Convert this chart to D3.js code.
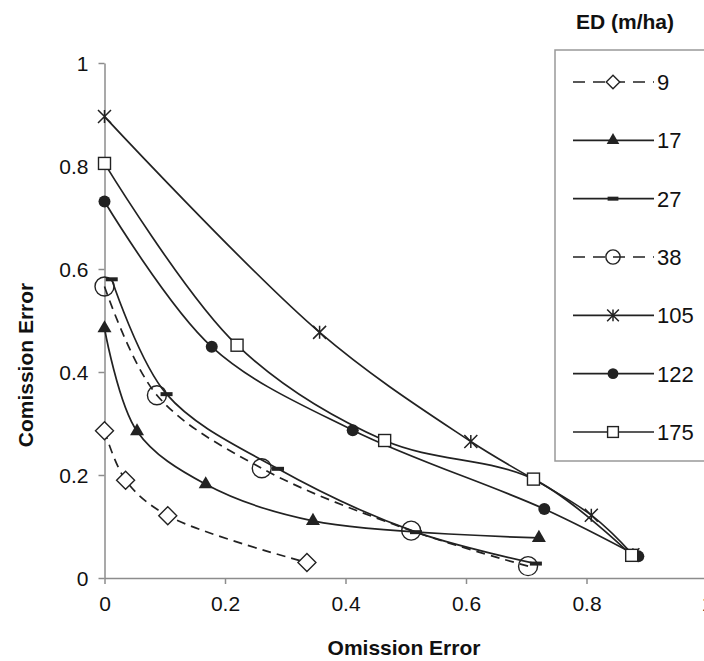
<!DOCTYPE html>
<html>
<head>
<meta charset="utf-8">
<script src="https://cdn.jsdelivr.net/npm/d3@7"></script>
<style>
  body { margin: 0; background: #fff; }
  svg { display: block; }
  text { font-family: "Liberation Sans", Arial, sans-serif; }
</style>
</head>
<body>
<svg id="chart" width="704" height="661"></svg>
<script>

// tick values
var xTicks = [0, 0.2, 0.4, 0.6, 0.8, 1];
var yTicks = [0, 0.2, 0.4, 0.6, 0.8, 1];

// series, [omission, comission]
var ed9   = [[0, 0.286], [0.035, 0.19], [0.105, 0.121], [0.336, 0.030]];
var ed17  = [[0, 0.485], [0.054, 0.285], [0.168, 0.182], [0.346, 0.111], [0.721, 0.078]];
var ed27  = [[0.012, 0.580], [0.103, 0.357], [0.288, 0.212], [0.517, 0.089], [0.716, 0.028]];
var ed38  = [[0, 0.566], [0.087, 0.355], [0.261, 0.213], [0.509, 0.092], [0.703, 0.023]];
var ed105 = [[0, 0.896], [0.357, 0.477], [0.608, 0.265], [0.808, 0.122], [0.877, 0.045]];
var ed122 = [[0, 0.731], [0.178, 0.449], [0.412, 0.287], [0.730, 0.134], [0.886, 0.042]];
var ed175 = [[0, 0.805], [0.220, 0.452], [0.465, 0.267], [0.712, 0.192], [0.875, 0.044]];

var legendLabels = ["9", "17", "27", "38", "105", "122", "175"];
var seriesData = [ed9, ed17, ed27, ed38, ed105, ed122, ed175];

// how each series is drawn
var seriesStyle = [
  {marker: "diamond",  dashed: true},
  {marker: "triangle", dashed: false},
  {marker: "dash",     dashed: false},
  {marker: "circle",   dashed: true},
  {marker: "star",     dashed: false},
  {marker: "dot",      dashed: false},
  {marker: "square",   dashed: false}
];

var svg = d3.select("#chart");
var ink = "#222";
var fontFam = "Liberation Sans, Arial, sans-serif";

var margin = {top: 63, left: 104.5};
var plotRight = 707, plotBottom = 578;

var x = d3.scaleLinear().domain([0, 1]).range([margin.left, plotRight]);
var y = d3.scaleLinear().domain([0, 1]).range([plotBottom, margin.top]);

// axes
var xAxis = d3.axisBottom(x).tickValues(xTicks).tickSize(6).tickSizeOuter(0).tickPadding(12)
    .tickFormat(function(d) { return d3.format("")(d); });
var yAxis = d3.axisLeft(y).tickValues(yTicks).tickSize(6).tickSizeOuter(0).tickPadding(10)
    .tickFormat(function(d) { return d3.format("")(d); });

var gx = svg.append("g").attr("transform", "translate(0," + plotBottom + ")").call(xAxis);
var gy = svg.append("g").attr("transform", "translate(" + margin.left + ",0)").call(yAxis);

[gx, gy].forEach(function(g) {
  g.attr("font-family", fontFam).attr("font-size", 21);
  g.select(".domain").attr("stroke", "#8c8c8c").attr("stroke-width", 1.5);
  g.selectAll(".tick line").attr("stroke", "#8c8c8c").attr("stroke-width", 1.5);
  g.selectAll(".tick text").attr("fill", "#111");
});
gy.selectAll(".tick text").attr("dy", "0.36em");

// axis titles
svg.append("text")
    .attr("x", 404).attr("y", 655)
    .attr("text-anchor", "middle")
    .style("font-size", "21px").style("font-weight", "bold").attr("fill", "#111")
    .text("Omission Error");

svg.append("text")
    .attr("transform", "translate(33,365) rotate(-90)")
    .attr("text-anchor", "middle")
    .style("font-size", "21px").style("font-weight", "bold").attr("fill", "#111")
    .text("Comission Error");

// marker drawing
function drawMarker(g, type, cx, cy, s) {
  s = s || 1;
  if (type == "diamond") {
    var r = 9 * s;
    g.append("path")
      .attr("d", "M" + cx + "," + (cy - r) + "L" + (cx + r) + "," + cy + "L" + cx + "," + (cy + r) + "L" + (cx - r) + "," + cy + "Z")
      .attr("fill", "#fff").attr("stroke", ink).attr("stroke-width", 1.4);
  } else if (type == "triangle") {
    g.append("path")
      .attr("d", d3.symbol(d3.symbolTriangle, 85 * s * s)())
      .attr("transform", "translate(" + cx + "," + cy + ")")
      .attr("fill", ink);
  } else if (type == "dash") {
    g.append("rect")
      .attr("x", cx - 6 * s).attr("y", cy - 2).attr("width", 12 * s).attr("height", 4)
      .attr("fill", ink);
  } else if (type == "circle") {
    g.append("circle").attr("cx", cx).attr("cy", cy).attr("r", 9.5 * s)
      .attr("fill", "none").attr("stroke", ink).attr("stroke-width", 1.4);
  } else if (type == "star") {
    var a = 6.5 * s;
    g.append("path")
      .attr("d", "M" + (cx - a) + "," + (cy - a) + "L" + (cx + a) + "," + (cy + a) +
                 "M" + (cx - a) + "," + (cy + a) + "L" + (cx + a) + "," + (cy - a) +
                 "M" + cx + "," + (cy - a) + "L" + cx + "," + (cy + a))
      .attr("stroke", ink).attr("stroke-width", 1.5).attr("fill", "none");
  } else if (type == "dot") {
    g.append("circle").attr("cx", cx).attr("cy", cy).attr("r", 6 * s).attr("fill", ink);
  } else if (type == "square") {
    var h = 6 * s;
    g.append("rect").attr("x", cx - h).attr("y", cy - h).attr("width", 2 * h).attr("height", 2 * h)
      .attr("fill", "#fff").attr("stroke", ink).attr("stroke-width", 1.4);
  }
}

var line = d3.line()
    .x(function(d) { return x(d[0]); })
    .y(function(d) { return y(d[1]); })
    .curve(d3.curveCatmullRom.alpha(0.5));

var plot = svg.append("g");

seriesData.forEach(function(data, i) {
  plot.append("path")
    .datum(data)
    .attr("d", line)
    .attr("fill", "none")
    .attr("stroke", ink)
    .attr("stroke-width", 1.7)
    .attr("stroke-dasharray", seriesStyle[i].dashed ? "9,6" : null);
});

seriesData.forEach(function(data, i) {
  var g = plot.append("g");
  data.forEach(function(d) {
    drawMarker(g, seriesStyle[i].marker, x(d[0]), y(d[1]));
  });
});

// legend
svg.append("text")
    .attr("x", 625).attr("y", 29)
    .attr("text-anchor", "middle")
    .style("font-size", "21px").style("font-weight", "bold").attr("fill", "#111")
    .text("ED (m/ha)");

var legend = svg.append("g");
legend.append("rect")
    .attr("x", 555).attr("y", 50).attr("width", 160).attr("height", 411)
    .attr("fill", "#fff").attr("stroke", "#999").attr("stroke-width", 1.5);

var legendY = d3.scalePoint().domain(legendLabels).range([82, 432]);

legendLabels.forEach(function(lbl, i) {
  var ly = legendY(lbl);
  legend.append("line")
    .attr("x1", 573).attr("x2", 654).attr("y1", ly).attr("y2", ly)
    .attr("stroke", ink).attr("stroke-width", 1.7)
    .attr("stroke-dasharray", seriesStyle[i].dashed ? "12,8" : null);
  var s = (seriesStyle[i].marker == "circle" || seriesStyle[i].marker == "diamond") ? 0.75 : 0.9;
  drawMarker(legend, seriesStyle[i].marker, 613, ly, s);
  legend.append("text")
    .attr("x", 657).attr("y", ly).attr("dy", "0.36em")
    .style("font-size", "22px").attr("fill", "#111")
    .text(lbl);
});

</script>
</body>
</html>
